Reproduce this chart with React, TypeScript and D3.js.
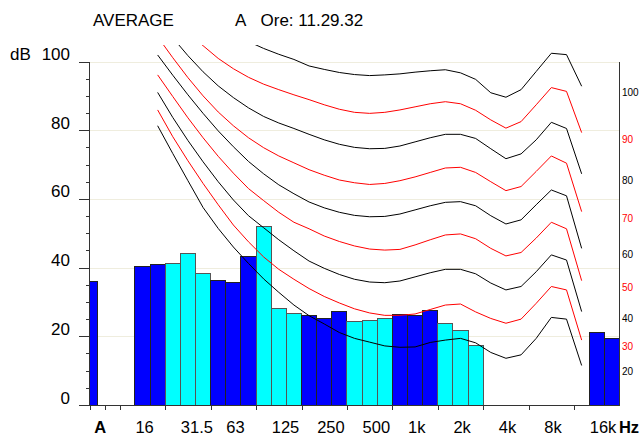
import React from "react";
import * as d3 from "d3";

// third-octave bands shown on the x axis (16 Hz .. 20 kHz)
const BANDS = [
  "16", "20", "25", "31.5", "40", "50", "63", "80", "100", "125", "160",
  "200", "250", "315", "400", "500", "630", "800", "1k", "1.25k", "1.6k",
  "2k", "2.5k", "3.15k", "4k", "5k", "6.3k", "8k", "10k", "12.5k", "16k", "20k",
];

// measured levels per band, dB (null = no bar)
const BAR_VALUES: (number | null)[] = [
  40.2, 40.8, 41.3, 44.2, 38.4, 36.3, 35.6, 43.1, 51.9, 28.1, 26.5,
  26.0, 25.2, 27.1, 24.2, 24.5, 25.3, 26.4, 26.2, 27.4, 23.6,
  21.8, 17.4, null, null, null, null, null, null, null, 21.1, 19.3,
];

const A_VALUE = 36.0;

// equal-loudness contours, 20 Hz .. 12.5 kHz
const CONTOUR_FREQS = BANDS.slice(1, 30);
const PHON_LEVELS = [100, 90, 80, 70, 60, 50, 40, 30, 20];

const PHON_100 = [123.7, 120.1, 116.8, 113.7, 110.9, 108.2, 105.8, 103.8, 102.1, 100.6, 98.7, 97.7, 96.8, 96.2, 95.9, 96.1, 96.4, 96.9, 97.3, 97.6, 96.7, 94.8, 90.9, 89.6, 91.8, 97.1, 102.4, 102.0, 92.8];
const PHON_90 = [118.0, 112.4, 108.4, 104.6, 100.9, 97.9, 95.4, 93.4, 91.8, 90.3, 88.9, 87.4, 86.1, 85.2, 84.9, 85.2, 85.9, 86.8, 87.7, 88.3, 87.7, 85.8, 83.0, 80.6, 82.5, 87.4, 92.4, 91.3, 79.3];
const PHON_80 = [112.7, 106.9, 101.7, 97.0, 92.9, 89.5, 86.5, 84.0, 82.1, 80.5, 78.8, 77.2, 75.9, 75.0, 74.6, 74.7, 75.4, 76.6, 77.8, 78.8, 78.8, 77.6, 74.6, 71.7, 73.1, 77.2, 82.3, 80.5, 67.3];
const PHON_70 = [107.2, 101.1, 95.3, 90.0, 85.3, 81.3, 77.8, 74.9, 72.5, 70.5, 68.5, 66.9, 65.5, 64.7, 64.2, 64.5, 65.3, 66.4, 67.7, 69.0, 69.2, 67.7, 65.0, 62.4, 63.6, 68.0, 72.5, 70.4, 56.3];
const PHON_60 = [101.9, 96.0, 90.3, 84.9, 79.8, 75.2, 70.9, 67.3, 64.1, 61.5, 59.1, 57.4, 56.1, 55.2, 54.8, 54.9, 55.6, 56.8, 58.0, 59.0, 59.2, 58.0, 55.1, 52.7, 53.9, 58.3, 62.6, 60.9, 45.6];
const PHON_50 = [96.1, 89.8, 83.6, 77.8, 72.4, 67.5, 63.0, 59.5, 56.1, 53.2, 51.3, 49.2, 47.6, 46.3, 45.4, 45.1, 45.3, 46.6, 48.1, 49.5, 49.8, 48.4, 45.6, 43.4, 44.4, 48.6, 53.2, 51.3, 36.2];
const PHON_40 = [91.0, 83.7, 77.0, 70.8, 65.0, 59.7, 55.1, 51.6, 48.1, 44.9, 41.9, 39.8, 38.0, 36.6, 35.8, 35.6, 36.1, 37.3, 38.5, 39.5, 39.5, 38.2, 35.5, 33.5, 34.5, 38.8, 43.7, 42.2, 27.2];
const PHON_30 = [85.9, 78.1, 71.1, 64.5, 58.3, 52.4, 47.5, 43.1, 39.5, 36.6, 33.9, 31.6, 29.7, 28.0, 26.8, 26.1, 26.1, 26.5, 27.8, 29.1, 29.4, 27.1, 25.2, 23.8, 25.0, 29.6, 34.5, 33.5, 18.9];
const PHON_20 = [81.3, 73.2, 65.3, 57.5, 51.4, 46.0, 41.2, 36.7, 32.8, 29.1, 26.0, 23.6, 21.1, 19.4, 18.3, 17.2, 16.8, 16.9, 18.2, 18.9, 19.4, 18.1, 15.3, 13.6, 14.6, 19.4, 25.5, 25.0, 11.5];

const CONTOURS = [PHON_100, PHON_90, PHON_80, PHON_70, PHON_60, PHON_50, PHON_40, PHON_30, PHON_20];

// x axis labels and the band index where each one starts
const X_LABELS = ["A", "16", "31.5", "63", "125", "250", "500", "1k", "2k", "4k", "8k", "16k", "Hz"];
const X_LABEL_AT = [-2.72, 0, 3, 6, 9, 12, 15, 18, 21, 24, 27, 30, 31.93];
const X_TICKS = [-3, -2, -1, 2, 5, 8, 11, 14, 17, 20, 23, 26, 29];
const Y_LABELS = [0, 20, 40, 60, 80, 100];

const FONT = "'Liberation Sans', Arial, sans-serif";

export default function App() {
  const width = 640;
  const height = 437;

  const x = d3.scaleLinear().domain([-3, 32]).range([89.5, 619.5]);
  const y = d3.scaleLinear().domain([0, 100]).range([405, 61.5]);

  // contour k-th point sits at the centre of band k+1 (20 Hz = band 1)
  const line = d3
    .line<number>()
    .x((_, k) => x(k + 1.5))
    .y((d) => y(d));

  const isBlue = (i: number) => Math.floor((i + 1) / 3) % 2 === 0;

  const minorTicks = d3.range(0, 101, 5);

  return (
    <svg
      width={width}
      height={height}
      viewBox={`0 0 ${width} ${height}`}
      style={{ position: "absolute", left: 0, top: 0, background: "#fff" }}
      fontFamily={FONT}
    >
      <defs>
        <clipPath id="plot">
          <rect x={89.5} y={45} width={530} height={360} />
        </clipPath>
      </defs>

      {/* title */}
      <text x={93} y={26} fontSize={17}>AVERAGE</text>
      <text x={235} y={26} fontSize={17}>A</text>
      <text x={260.5} y={26} fontSize={17}>Ore: 11.29.32</text>

      {/* grid */}
      {Y_LABELS.filter((v) => v > 0).map((v) => (
        <line
          key={"g" + v}
          x1={x(-3)}
          x2={x(32)}
          y1={Math.round(y(v)) + 0.5}
          y2={Math.round(y(v)) + 0.5}
          stroke="#efedde"
          shapeRendering="crispEdges"
        />
      ))}

      {/* bars */}
      <rect
        x={x(-3)}
        y={y(A_VALUE)}
        width={x(-2.5) - x(-3)}
        height={y(0) - y(A_VALUE)}
        fill="#0000ff"
        stroke="#222"
        shapeRendering="crispEdges"
      />
      {BAR_VALUES.map((v, i) =>
        v == null ? null : (
          <rect
            key={BANDS[i]}
            x={x(i)}
            y={y(v)}
            width={x(i + 1) - x(i)}
            height={y(0) - y(v)}
            fill={isBlue(i) ? "#0000ff" : "#00ffff"}
            stroke={isBlue(i) ? "#222" : "#555"}
            shapeRendering="crispEdges"
          />
        )
      )}

      {/* contours */}
      <g clipPath="url(#plot)" fill="none" strokeWidth={1}>
        {CONTOURS.map((c, k) => (
          <path
            key={PHON_LEVELS[k]}
            d={line(c) || ""}
            stroke={PHON_LEVELS[k] % 20 === 0 ? "#000" : "#ff0000"}
          />
        ))}
      </g>

      {/* contour labels */}
      {CONTOURS.map((c, k) => (
        <text
          key={"l" + PHON_LEVELS[k]}
          x={622}
          y={y(c[c.length - 1]) + 10}
          fontSize={10}
          fill={PHON_LEVELS[k] % 20 === 0 ? "#000" : "#ff0000"}
        >
          {PHON_LEVELS[k]}
        </text>
      ))}

      {/* axes */}
      <g stroke="#333" shapeRendering="crispEdges">
        <line x1={89.5} x2={89.5} y1={y(100)} y2={y(0)} />
        {minorTicks.map((v) => (
          <line
            key={"t" + v}
            x1={v % 20 === 0 ? 79 : 86}
            x2={89.5}
            y1={Math.round(y(v)) + 0.5}
            y2={Math.round(y(v)) + 0.5}
          />
        ))}
        <line x1={619.5} x2={619.5} y1={y(100)} y2={y(0)} />
        <line x1={79} x2={620} y1={405.5} y2={405.5} />
        {X_TICKS.map((t) => (
          <line
            key={"x" + t}
            x1={Math.round(x(t)) + 0.5}
            x2={Math.round(x(t)) + 0.5}
            y1={405}
            y2={410}
          />
        ))}
      </g>

      <text x={10} y={y(100) - 1.5} fontSize={17}>dB</text>
      {Y_LABELS.map((v) => (
        <text key={"y" + v} x={70} y={y(v) - 1.5} fontSize={17} textAnchor="end">
          {v}
        </text>
      ))}

      {X_LABELS.map((t, i) => (
        <text
          key={"xl" + t}
          x={x(X_LABEL_AT[i]) + 0.5}
          y={433}
          fontSize={16.5}
          fontWeight={t === "A" || t === "Hz" ? "bold" : "normal"}
        >
          {t}
        </text>
      ))}
    </svg>
  );
}
